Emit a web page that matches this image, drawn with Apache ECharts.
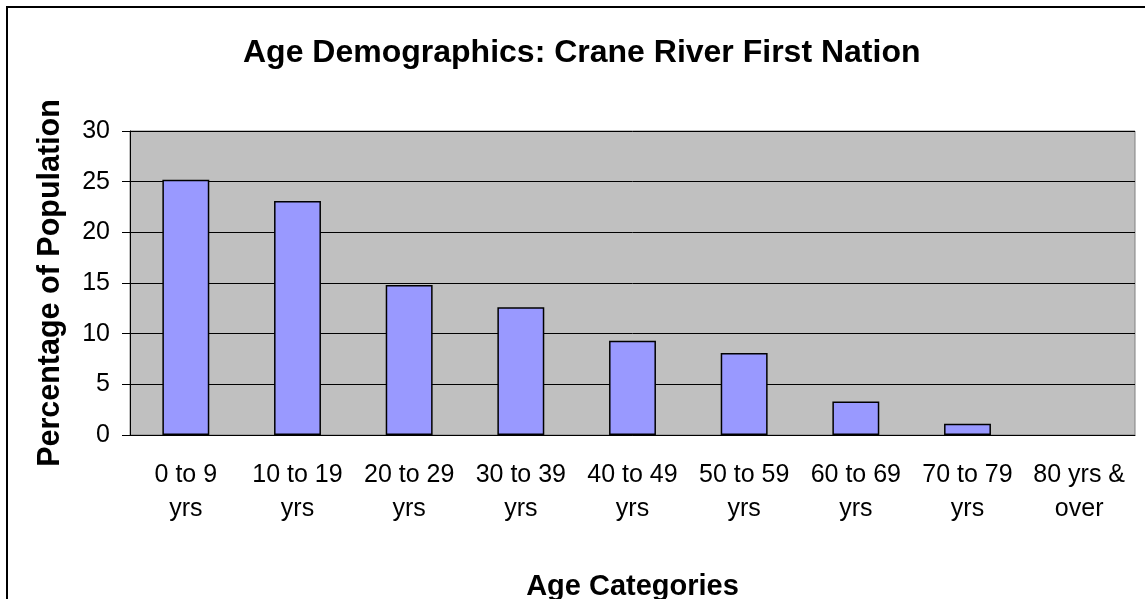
<!DOCTYPE html>
<html>
<head>
<meta charset="utf-8">
<script src="https://cdn.jsdelivr.net/npm/echarts@6/dist/echarts.min.js"></script>
<style>
  html, body { margin: 0; padding: 0; background: #fff; }
  #wrap { position: relative; width: 1145px; height: 599px; overflow: hidden; }
  #frame { position: absolute; left: 6px; top: 6px; width: 1200px; height: 700px;
           border-left: 2px solid #000; border-top: 2px solid #000; }
  #chart { position: absolute; left: 0; top: 0; width: 1145px; height: 599px; }
</style>
</head>
<body>
<div id="wrap">
  <div id="frame"></div>
  <div id="chart"></div>
</div>
<script>
// age buckets and share of population (%)
const categories = ['0 to 9\nyrs', '10 to 19\nyrs', '20 to 29\nyrs', '30 to 39\nyrs', '40 to 49\nyrs',
  '50 to 59\nyrs', '60 to 69\nyrs', '70 to 79\nyrs', '80 yrs &\nover']
const percentages = [25.2, 23.1, 14.8, 12.6, 9.3, 8.1, 3.3, 1.1, 0]
const yTicks = [0, 5, 10, 15, 20, 25, 30]

const font = 'Arial, "Liberation Sans", sans-serif'

const chart = echarts.init(document.getElementById('chart'), null, { renderer: 'canvas' })

// empty buckets get no outline so they don't show as a flat line on the axis
const barData = percentages.map(v => v === 0 ? { value: v, itemStyle: { borderWidth: 0 } } : v)

chart.setOption({
  animation: false,
  backgroundColor: 'transparent',
  title: {
    text: 'Age Demographics: Crane River First Nation',
    left: 243,
    top: 37,
    padding: 0,
    textStyle: { fontFamily: font, fontSize: 32, fontWeight: 'bold', color: '#000' }
  },
  grid: {
    left: 130,
    right: 10,
    top: 131,
    bottom: 164,
    outerBoundsMode: 'none',
    show: true,
    backgroundColor: '#c0c0c0',
    borderColor: '#808080',
    borderWidth: 1
  },
  xAxis: {
    type: 'category',
    data: categories,
    name: 'Age Categories',
    nameLocation: 'middle',
    nameGap: 137,
    nameTextStyle: { fontFamily: font, fontSize: 29, fontWeight: 'bold', color: '#000' },
    axisLine: { lineStyle: { color: '#000', width: 1 } },
    axisTick: { length: 8, lineStyle: { color: '#000' } },
    axisLabel: {
      interval: 0,
      margin: 23,
      fontFamily: font,
      fontSize: 25,
      lineHeight: 34,
      color: '#000'
    }
  },
  yAxis: {
    type: 'value',
    min: yTicks[0],
    max: yTicks[yTicks.length - 1],
    interval: 5,
    name: 'Percentage of Population',
    nameLocation: 'middle',
    nameGap: 64,
    nameTextStyle: { fontFamily: font, fontSize: 30.5, fontWeight: 'bold', color: '#000' },
    axisLine: { show: true, lineStyle: { color: '#000', width: 1 } },
    axisTick: { show: true, length: 8, lineStyle: { color: '#000' } },
    axisLabel: { margin: 20, fontFamily: font, fontSize: 25, color: '#000' },
    splitLine: { lineStyle: { color: '#000', width: 1 } }
  },
  series: [{
    type: 'bar',
    data: barData,
    barWidth: '42%',
    itemStyle: { color: '#9999ff', borderColor: '#000', borderWidth: 1.5 }
  }]
})
</script>
</body>
</html>
